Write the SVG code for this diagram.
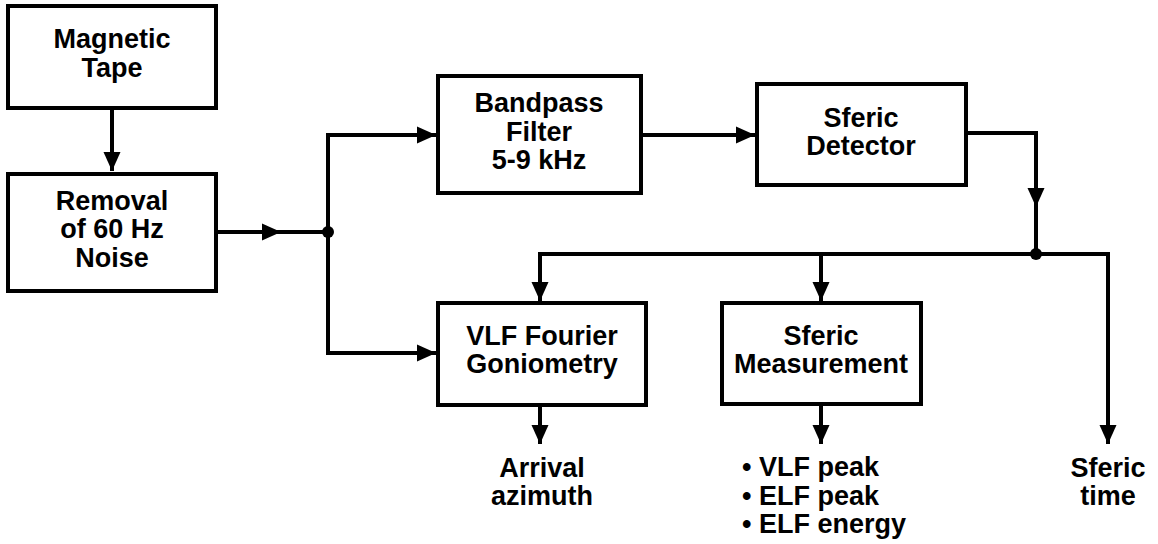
<svg xmlns="http://www.w3.org/2000/svg" width="1158" height="544" viewBox="0 0 1158 544">
  <defs>
    <marker id="arrow" markerUnits="userSpaceOnUse" markerWidth="19" markerHeight="18" refX="19" refY="9" orient="auto">
      <path d="M0,0.5 L19,9 L0,17.5 z" fill="#000"/>
    </marker>
    <style>
      .box { fill: #fff; stroke: #000; stroke-width: 4; }
      .wire { fill: none; stroke: #000; stroke-width: 4; }
      .lbl { font-family: "Liberation Sans", Arial, Helvetica, sans-serif; font-weight: bold; font-size: 27px; fill: #000; text-anchor: middle; }
      .list { text-anchor: start; }
    </style>
  </defs>
  <rect width="1158" height="544" fill="#fff"/>

  <!-- connectors -->
  <g id="connectors">
    <line class="wire" x1="112" y1="108" x2="112" y2="171" marker-end="url(#arrow)"/>
    <line class="wire" x1="216" y1="232" x2="281" y2="232" marker-end="url(#arrow)"/>
    <line class="wire" x1="279" y1="232" x2="328" y2="232"/>
    <line class="wire" x1="328" y1="133" x2="328" y2="355"/>
    <line class="wire" x1="326" y1="135" x2="436" y2="135" marker-end="url(#arrow)"/>
    <line class="wire" x1="326" y1="353" x2="436" y2="353" marker-end="url(#arrow)"/>
    <line class="wire" x1="641" y1="135" x2="755" y2="135" marker-end="url(#arrow)"/>
    <path class="wire" d="M964,133 L1036,133 L1036,207" marker-end="url(#arrow)"/>
    <line class="wire" x1="1036" y1="205" x2="1036" y2="254"/>
    <path class="wire" d="M540,254 L1108,254 L1108,444" marker-end="url(#arrow)"/>
    <line class="wire" x1="540" y1="252" x2="540" y2="301" marker-end="url(#arrow)"/>
    <line class="wire" x1="821" y1="254" x2="821" y2="301" marker-end="url(#arrow)"/>
    <line class="wire" x1="540" y1="405" x2="540" y2="444" marker-end="url(#arrow)"/>
    <line class="wire" x1="821" y1="405" x2="821" y2="444" marker-end="url(#arrow)"/>
    <circle cx="328" cy="232" r="6" fill="#000"/>
    <circle cx="1036" cy="254" r="6" fill="#000"/>
  </g>

  <g id="magnetic-tape">
    <rect class="box" x="8" y="6" width="208" height="102"/>
    <text class="lbl" x="112" y="48">Magnetic</text>
    <text class="lbl" x="112" y="77">Tape</text>
  </g>

  <g id="noise-removal">
    <rect class="box" x="8" y="174" width="208" height="117"/>
    <text class="lbl" x="112" y="210">Removal</text>
    <text class="lbl" x="112" y="238">of 60 Hz</text>
    <text class="lbl" x="112" y="267">Noise</text>
  </g>

  <g id="bandpass-filter">
    <rect class="box" x="438" y="76" width="203" height="117"/>
    <text class="lbl" x="539" y="112">Bandpass</text>
    <text class="lbl" x="539" y="141">Filter</text>
    <text class="lbl" x="539" y="169">5-9 kHz</text>
  </g>

  <g id="sferic-detector">
    <rect class="box" x="757" y="84" width="209" height="101"/>
    <text class="lbl" x="861" y="127">Sferic</text>
    <text class="lbl" x="861" y="155">Detector</text>
  </g>

  <g id="vlf-goniometry">
    <rect class="box" x="438" y="303" width="208" height="102"/>
    <text class="lbl" x="542" y="345">VLF Fourier</text>
    <text class="lbl" x="542" y="373">Goniometry</text>
  </g>

  <g id="sferic-measurement">
    <rect class="box" x="722" y="303" width="199" height="101"/>
    <text class="lbl" x="821" y="345">Sferic</text>
    <text class="lbl" x="821" y="373">Measurement</text>
  </g>

  <g id="arrival-azimuth">
    <text class="lbl" x="542" y="477">Arrival</text>
    <text class="lbl" x="542" y="505">azimuth</text>
  </g>

  <g id="measurement-outputs">
    <text class="lbl list" x="742" y="476">• VLF peak</text>
    <text class="lbl list" x="742" y="505">• ELF peak</text>
    <text class="lbl list" x="742" y="533">• ELF energy</text>
  </g>

  <g id="sferic-time">
    <text class="lbl" x="1108" y="477">Sferic</text>
    <text class="lbl" x="1108" y="505">time</text>
  </g>
</svg>
